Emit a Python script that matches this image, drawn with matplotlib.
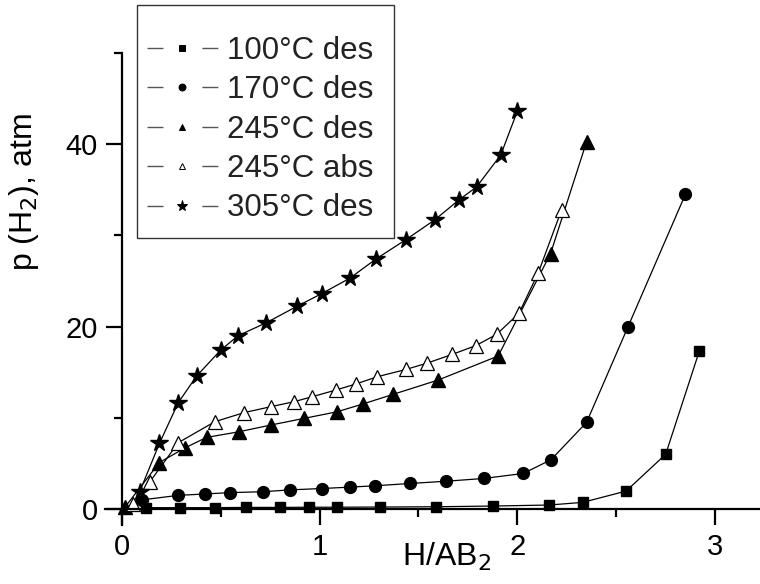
import matplotlib
matplotlib.use("Agg")
import matplotlib.pyplot as plt
from matplotlib.lines import Line2D
from matplotlib.patches import Rectangle
from matplotlib.ticker import MultipleLocator

plt.rcParams['font.family'] = ['Liberation Sans', 'DejaVu Sans']

# data
x100 = [0.12, 0.295, 0.47, 0.63, 0.80, 0.945, 1.09, 1.305, 1.59, 1.875, 2.16, 2.33, 2.55, 2.75, 2.92]
y100 = [0.15, 0.15, 0.15, 0.18, 0.18, 0.2, 0.2, 0.22, 0.25, 0.33, 0.44, 0.73, 1.97, 6.0, 17.3]

x170 = [0.10, 0.285, 0.42, 0.546, 0.715, 0.85, 1.01, 1.153, 1.28, 1.457, 1.64, 1.83, 2.03, 2.17, 2.35, 2.56, 2.85]
y170 = [1.0, 1.5, 1.65, 1.8, 1.9, 2.1, 2.25, 2.4, 2.55, 2.8, 3.05, 3.35, 3.9, 5.4, 9.5, 20.0, 34.5]

x245d = [0.015, 0.19, 0.319, 0.428, 0.593, 0.752, 0.92, 1.089, 1.217, 1.372, 1.6, 1.903, 2.168, 2.35]
y245d = [0.2, 5.1, 6.7, 7.85, 8.47, 9.2, 9.93, 10.66, 11.5, 12.57, 14.14, 16.77, 28.0, 40.25]

x245a = [0.057, 0.142, 0.285, 0.47, 0.617, 0.752, 0.87, 0.963, 1.082, 1.183, 1.292, 1.437, 1.541, 1.671,
         1.789, 1.895, 2.008, 2.106, 2.224]
y245a = [0.6, 3.0, 7.27, 9.57, 10.56, 11.21, 11.76, 12.31, 13.04, 13.7, 14.5, 15.3, 15.97, 16.95,
         17.9, 19.14, 21.45, 25.9, 32.8]

x305 = [0.09, 0.19, 0.285, 0.378, 0.499, 0.588, 0.729, 0.884, 1.01, 1.153, 1.285, 1.435, 1.583, 1.706,
        1.794, 1.916, 2.0]
y305 = [1.9, 7.2, 11.65, 14.58, 17.4, 19.0, 20.4, 22.2, 23.6, 25.3, 27.4, 29.5, 31.7, 33.9,
        35.3, 38.8, 43.6]

labels = ['100°C des', '170°C des', '245°C des', '245°C abs', '305°C des']

W, H = 760, 584
fig = plt.figure(figsize=(7.6, 5.84), dpi=100)
ax = fig.add_axes([0.138, 0.101, 0.862, 0.8087])

ax.plot(x100, y100, '-', color='black', lw=0.9, marker='s', ms=7.5, mfc='black', mec='black')
ax.plot(x170, y170, '-', color='black', lw=0.9, marker='o', ms=8.5, mfc='black', mec='black')
ax.plot(x245d, y245d, '-', color='black', lw=0.9, marker='^', ms=9.5, mfc='black', mec='black')
ax.plot(x245a, y245a, '-', color='black', lw=0.9, marker='^', ms=9.5, mfc='white', mec='black', mew=0.9)
ax.plot(x305, y305, '-', color='black', lw=0.9, marker='*', ms=13, mfc='black', mec='black')

ax.set_xlim(-0.086, 3.227)
ax.set_ylim(-1.75, 50)

for s in ['top', 'right']:
    ax.spines[s].set_visible(False)
ax.spines['left'].set_position(('data', 0))
ax.spines['bottom'].set_position(('data', 0))
ax.spines['left'].set_linewidth(1.6)
ax.spines['bottom'].set_linewidth(1.6)

ax.xaxis.set_major_locator(MultipleLocator(1))
ax.xaxis.set_minor_locator(MultipleLocator(0.5))
ax.yaxis.set_major_locator(MultipleLocator(20))
ax.yaxis.set_minor_locator(MultipleLocator(10))
ax.tick_params(which='major', direction='out', length=11.5, width=1.6, labelsize=21, pad=6)
ax.tick_params(which='minor', direction='out', length=6, width=1.6)

ax.set_xlabel('H/AB$_2$', fontsize=23)
ax.xaxis.set_label_coords(0.522, -0.032)
ax.set_ylabel('p (H$_2$), atm', fontsize=23, va='center')
ax.yaxis.set_label_coords(-0.124, 0.705)

# legend: frame drawn separately, entries without frame
markers = [('s', 'black'), ('o', 'black'), ('^', 'black'), ('^', 'white'), ('*', 'black')]
handles = []
for (m, fc) in markers:
    handles.append(Line2D([], [], color='#555555', lw=1, dashes=(11.5, 28),
                          marker=m, mfc=fc, mec='black', mew=0.7,
                          ms=(8 if m == '*' else 5)))

leg = fig.legend(handles, labels, loc='upper left', bbox_to_anchor=(147 / W, 1 - 36 / H),
                 fontsize=22.5, frameon=False,
                 handlelength=2.26, handletextpad=0.3, labelspacing=0.3, borderpad=0,
                 borderaxespad=0, numpoints=1)
for t in leg.get_texts():
    t.set_color('#222222')

fig.patches.append(Rectangle((137 / W, 1 - 238 / H), (394 - 137) / W, (238 - 5) / H,
                             transform=fig.transFigure, fill=False, edgecolor='#333333', lw=1.0))

fig.savefig('out.png', dpi=100)
